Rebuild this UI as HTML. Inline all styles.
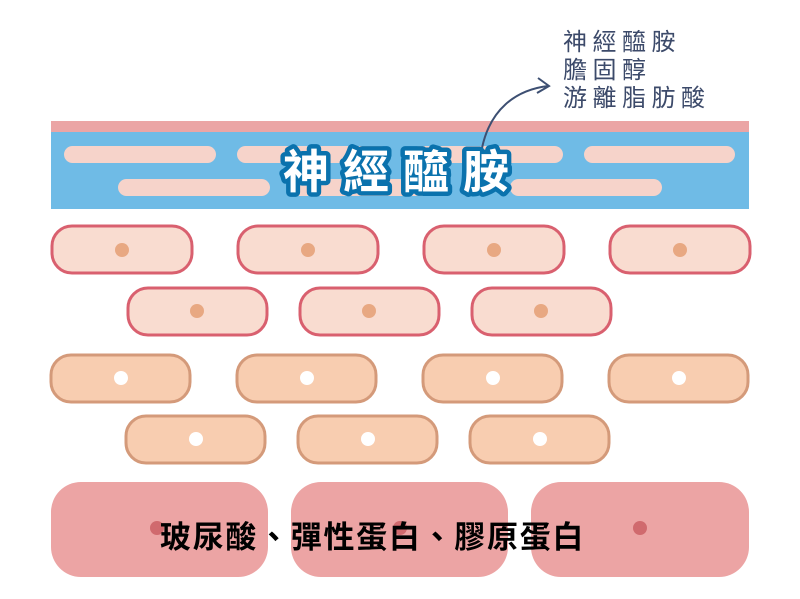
<!DOCTYPE html>
<html><head><meta charset="utf-8"><style>
html,body{margin:0;padding:0;background:#fff;}
svg{display:block;}
text{font-family:"Liberation Sans","Noto Sans CJK TC",sans-serif;}
</style></head><body>
<svg width="800" height="599" viewBox="0 0 800 599" xmlns="http://www.w3.org/2000/svg">
<rect x="51" y="121" width="698" height="12" fill="#eba5a5"/>
<rect x="51" y="132" width="698" height="77" fill="#6fbbe6"/>
<g fill="#f6d3ca">
<rect x="64" y="146" width="152" height="17" rx="8.5"/>
<rect x="237" y="146" width="152" height="17" rx="8.5"/>
<rect x="411" y="146" width="152" height="17" rx="8.5"/>
<rect x="584" y="146" width="151" height="17" rx="8.5"/>
<rect x="118" y="179" width="152" height="17" rx="8.5"/>
<rect x="291" y="179" width="152" height="17" rx="8.5"/>
<rect x="510" y="179" width="152" height="17" rx="8.5"/>
</g>
<path d="M482,148 C490,110 515,90 548,86" fill="none" stroke="#3d4f72" stroke-width="2"/>
<path d="M538,78 L549,86 L537,93" fill="none" stroke="#3d4f72" stroke-width="2"/>
<text x="283" y="188" font-size="46" font-weight="bold" letter-spacing="14" fill="#fff" stroke="#0a72ad" stroke-width="9" stroke-linejoin="round" paint-order="stroke">神經醯胺</text>
<g font-size="24" fill="#3c4a6a" letter-spacing="5.5">
<text x="563" y="50">神經醯胺</text>
<text x="563" y="78">膽固醇</text>
<text x="563" y="106">游離脂肪酸</text>
</g>
<g fill="#f9dcd0" stroke="#d9606f" stroke-width="3">
<rect x="52" y="226" width="140" height="47" rx="20"/>
<rect x="238" y="226" width="140" height="47" rx="20"/>
<rect x="424" y="226" width="140" height="47" rx="20"/>
<rect x="610" y="226" width="140" height="47" rx="20"/>
<rect x="128" y="288" width="139" height="47" rx="20"/>
<rect x="300" y="288" width="139" height="47" rx="20"/>
<rect x="472" y="288" width="139" height="47" rx="20"/>
</g>
<g fill="#e8a882">
<circle cx="122" cy="250" r="7"/><circle cx="308" cy="250" r="7"/><circle cx="494" cy="250" r="7"/><circle cx="680" cy="250" r="7"/>
<circle cx="197" cy="311" r="7"/><circle cx="369" cy="311" r="7"/><circle cx="541" cy="311" r="7"/>
</g>
<g fill="#f8cdb0" stroke="#d49a7a" stroke-width="3">
<rect x="51" y="355" width="139" height="47" rx="20"/>
<rect x="237" y="355" width="139" height="47" rx="20"/>
<rect x="423" y="355" width="139" height="47" rx="20"/>
<rect x="609" y="355" width="139" height="47" rx="20"/>
<rect x="126" y="416" width="139" height="47" rx="20"/>
<rect x="298" y="416" width="139" height="47" rx="20"/>
<rect x="470" y="416" width="139" height="47" rx="20"/>
</g>
<g fill="#fff">
<circle cx="121" cy="378" r="7"/><circle cx="307" cy="378" r="7"/><circle cx="493" cy="378" r="7"/><circle cx="679" cy="378" r="7"/>
<circle cx="196" cy="439" r="7"/><circle cx="368" cy="439" r="7"/><circle cx="540" cy="439" r="7"/>
</g>
<g fill="#eca4a4">
<rect x="51" y="482" width="217" height="95" rx="30"/>
<rect x="291" y="482" width="217" height="95" rx="30"/>
<rect x="531" y="482" width="218" height="95" rx="30"/>
</g>
<g fill="#d06a6e">
<circle cx="157" cy="528" r="7"/><circle cx="400" cy="528" r="7"/><circle cx="640" cy="528" r="7"/>
</g>
<text x="160" y="548" font-size="31" font-weight="bold" fill="#000" letter-spacing="1.7">玻尿酸、彈性蛋白、膠原蛋白</text>
</svg>
</body></html>
